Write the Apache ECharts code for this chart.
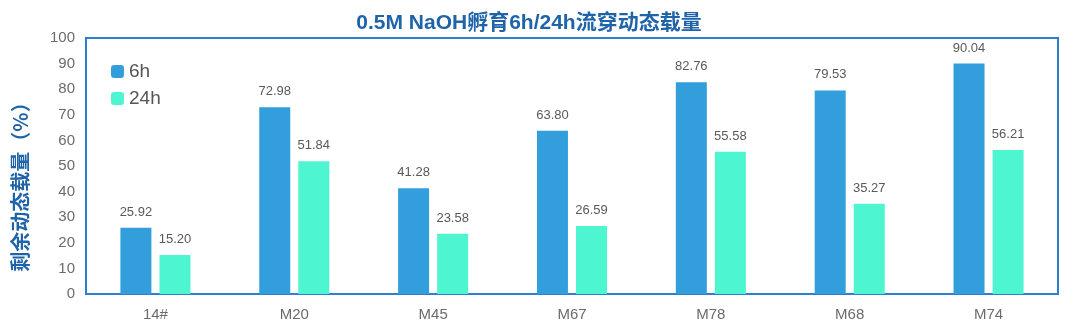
<!DOCTYPE html>
<html><head><meta charset="utf-8">
<script src="https://cdn.jsdelivr.net/npm/echarts@6/dist/echarts.min.js"></script>
<style>html,body{margin:0;padding:0;background:#fff}#c{width:1080px;height:332px}</style>
</head><body><div id="c"></div>
<script>
const categories = ['14#','M20','M45','M67','M78','M68','M74'];
const values6h = [25.92,72.98,41.28,63.80,82.76,79.53,90.04];
const values24h = [15.20,51.84,23.58,26.59,55.58,35.27,56.21];
const chart = echarts.init(document.getElementById('c'));
const labelCfg = {show:true,position:'top',distance:9,color:'#595959',fontSize:13,fontFamily:'Arial, Liberation Sans',formatter:p=>p.value.toFixed(2)};
chart.setOption({
  animation:false,
  title:{text:'0.5M NaOH孵育6h/24h流穿动态载量',left:524,textAlign:'center',top:8,textStyle:{color:'#1f64a8',fontSize:21,fontWeight:'bold',fontFamily:'Liberation Sans, Noto Sans CJK SC'}},
  legend:{orient:'vertical',left:106,top:57,itemWidth:13,itemHeight:13,itemGap:8,textStyle:{fontSize:19,color:'#555',fontFamily:'Arial, Liberation Sans'},data:['6h','24h']},
  grid:{left:86,right:22,top:38,bottom:38,show:true,borderColor:'#2f7fd0',borderWidth:2,containLabel:false},
  xAxis:{type:'category',data:categories,axisLine:{show:true,lineStyle:{color:'#2f7fd0',width:2}},axisTick:{show:false},axisLabel:{color:'#6b6b6b',fontSize:15,margin:13,fontFamily:'Arial, Liberation Sans'}},
  yAxis:{type:'value',min:0,max:100,interval:10,splitLine:{show:false},axisLine:{show:false},axisTick:{show:false},axisLabel:{color:'#6b6b6b',fontSize:15,margin:11,fontFamily:'Arial, Liberation Sans'},
    name:'剩余动态载量（%）',nameLocation:'middle',nameGap:56,nameRotate:90,nameTextStyle:{color:'#1f64a8',fontSize:20,fontWeight:'bold',fontFamily:'Noto Sans CJK SC',padding:[0,32,0,0]}},
  series:[
    {name:'6h',type:'bar',data:values6h,barWidth:31,barGap:'26%',itemStyle:{color:'#329fdc'},label:labelCfg},
    {name:'24h',type:'bar',data:values24h,barWidth:31,itemStyle:{color:'#4df5d0'},label:labelCfg}
  ]
});
</script></body></html>
